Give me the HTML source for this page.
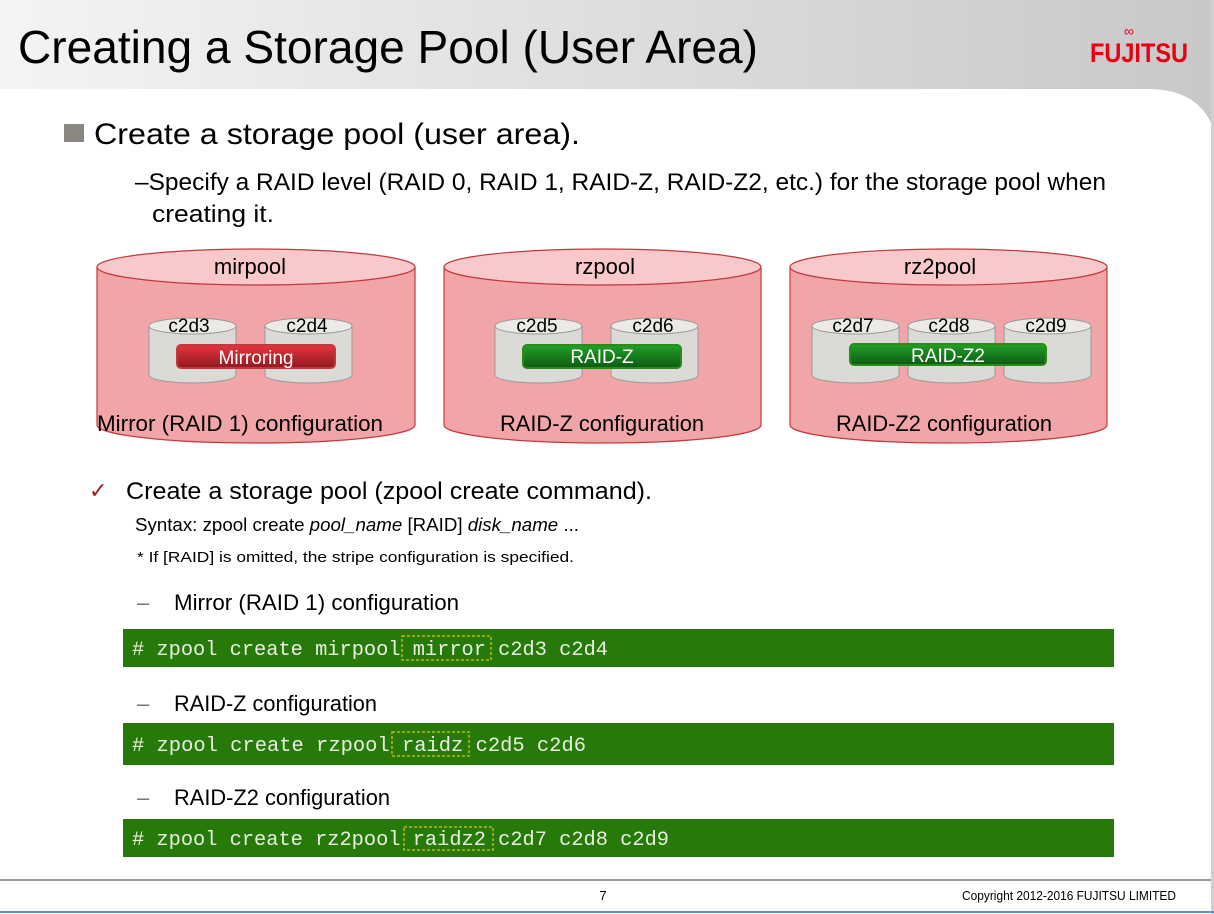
<!DOCTYPE html>
<html><head><meta charset="utf-8"><style>
html,body{margin:0;padding:0;background:#fff}
svg{display:block}
text{font-family:"Liberation Sans Narrow","Liberation Sans",sans-serif}
.m{font-family:"Liberation Mono",monospace;fill:#e8efe0}
</style></head><body>
<svg width="1214" height="914" viewBox="0 0 1214 914" xmlns="http://www.w3.org/2000/svg">
<defs>
<linearGradient id="hg" x1="0" x2="1" y1="0" y2="0"><stop offset="0" stop-color="#f4f4f4"/><stop offset="1" stop-color="#c8c8c8"/></linearGradient>
<linearGradient id="rb" x1="0" x2="0" y1="0" y2="1"><stop offset="0" stop-color="#e8343e"/><stop offset="1" stop-color="#8e1a20"/></linearGradient>
<linearGradient id="gb" x1="0" x2="0" y1="0" y2="1"><stop offset="0" stop-color="#23a028"/><stop offset="1" stop-color="#0d5a12"/></linearGradient>
</defs>
<rect x="0" y="0" width="1214" height="914" fill="#fff"/>
<path d="M0,0 H1214 V130 Q1200,90 1150,89 H0 Z" fill="url(#hg)"/>
<text x="18" y="63" font-size="46" textLength="740" lengthAdjust="spacingAndGlyphs">Creating a Storage Pool (User Area)</text>
<text x="1090" y="62" font-size="27" fill="#e60012" font-weight="bold" textLength="98" lengthAdjust="spacingAndGlyphs">FUJITSU</text>
<text x="1124" y="36" font-size="14" fill="#e60012">∞</text>
<rect x="64" y="124" width="20" height="18" fill="#8a8780"/>
<text x="94" y="144" font-size="30" textLength="486" lengthAdjust="spacingAndGlyphs">Create a storage pool (user area).</text>
<text x="135" y="190" font-size="24" textLength="971" lengthAdjust="spacingAndGlyphs">–Specify a RAID level (RAID 0, RAID 1, RAID-Z, RAID-Z2, etc.) for the storage pool when</text>
<text x="152" y="222" font-size="24" textLength="122" lengthAdjust="spacingAndGlyphs">creating it.</text>

<!-- pools -->
<g stroke="#c0393f" stroke-width="1.2">
<path d="M97,267 L97,425 A159,18 0 0 0 415,425 L415,267 Z" fill="#f2a5a8"/>
<ellipse cx="256" cy="267" rx="159" ry="18" fill="#f8c8ca"/>
<path d="M444,267 L444,425 A158.5,18 0 0 0 761,425 L761,267 Z" fill="#f2a5a8"/>
<ellipse cx="602.5" cy="267" rx="158.5" ry="18" fill="#f8c8ca"/>
<path d="M790,267 L790,425 A158.5,18 0 0 0 1107,425 L1107,267 Z" fill="#f2a5a8"/>
<ellipse cx="948.5" cy="267" rx="158.5" ry="18" fill="#f8c8ca"/>
</g>
<g font-size="22" text-anchor="middle">
<text x="250" y="274">mirpool</text>
<text x="605" y="274">rzpool</text>
<text x="940" y="274">rz2pool</text>
</g>
<!-- disks -->
<g stroke="#999" stroke-width="1" fill="#dcdad6">
<path d="M149,326 V375 A43.5,8 0 0 0 236,375 V326 Z"/><ellipse cx="192.5" cy="326" rx="43.5" ry="8" fill="#eceae6"/>
<path d="M265,326 V375 A43.5,8 0 0 0 352,375 V326 Z"/><ellipse cx="308.5" cy="326" rx="43.5" ry="8" fill="#eceae6"/>
<path d="M495,326 V375 A43.5,8 0 0 0 582,375 V326 Z"/><ellipse cx="538.5" cy="326" rx="43.5" ry="8" fill="#eceae6"/>
<path d="M611,326 V375 A43.5,8 0 0 0 698,375 V326 Z"/><ellipse cx="654.5" cy="326" rx="43.5" ry="8" fill="#eceae6"/>
<path d="M812,326 V375 A43.5,8 0 0 0 899,375 V326 Z"/><ellipse cx="855.5" cy="326" rx="43.5" ry="8" fill="#eceae6"/>
<path d="M908,326 V375 A43.5,8 0 0 0 995,375 V326 Z"/><ellipse cx="951.5" cy="326" rx="43.5" ry="8" fill="#eceae6"/>
<path d="M1004,326 V375 A43.5,8 0 0 0 1091,375 V326 Z"/><ellipse cx="1047.5" cy="326" rx="43.5" ry="8" fill="#eceae6"/>
</g>
<g font-size="19" text-anchor="middle">
<text x="189" y="332">c2d3</text><text x="307" y="332">c2d4</text>
<text x="537" y="332">c2d5</text><text x="653" y="332">c2d6</text>
<text x="853" y="332">c2d7</text><text x="949" y="332">c2d8</text><text x="1046" y="332">c2d9</text>
</g>
<rect x="177" y="345" width="158" height="23" rx="4" fill="url(#rb)" stroke="#c0393f" stroke-width="2"/>
<rect x="523" y="345" width="158" height="23" rx="4" fill="url(#gb)" stroke="#2a8a1a" stroke-width="2"/>
<rect x="850" y="344" width="196" height="21" rx="4" fill="url(#gb)" stroke="#2a8a1a" stroke-width="2"/>
<g font-size="19" fill="#fff" text-anchor="middle">
<text x="256" y="364">Mirroring</text>
<text x="602" y="363">RAID-Z</text>
<text x="948" y="362">RAID-Z2</text>
</g>
<g font-size="22">
<text x="97" y="431" textLength="286" lengthAdjust="spacingAndGlyphs">Mirror (RAID 1) configuration</text>
<text x="500" y="431" textLength="204" lengthAdjust="spacingAndGlyphs">RAID-Z configuration</text>
<text x="836" y="431" textLength="216" lengthAdjust="spacingAndGlyphs">RAID-Z2 configuration</text>
</g>

<text x="89" y="498" font-size="22" fill="#a01e24">✓</text>
<text x="126" y="499" font-size="24" textLength="526" lengthAdjust="spacingAndGlyphs">Create a storage pool (zpool create command).</text>
<text x="135" y="531" font-size="18" textLength="444" lengthAdjust="spacingAndGlyphs">Syntax: zpool create <tspan font-style="italic">pool_name</tspan> [RAID] <tspan font-style="italic">disk_name</tspan> ...</text>
<text x="137" y="562" font-size="15" textLength="437" lengthAdjust="spacingAndGlyphs">*   If [RAID] is omitted, the stripe configuration is specified.</text>
<g font-size="22">
<text x="137" y="610" fill="#777">–</text><text x="174" y="610" textLength="285" lengthAdjust="spacingAndGlyphs">Mirror (RAID 1) configuration</text>
<text x="137" y="711" fill="#777">–</text><text x="174" y="711" textLength="203" lengthAdjust="spacingAndGlyphs">RAID-Z configuration</text>
<text x="137" y="805" fill="#777">–</text><text x="174" y="805" textLength="216" lengthAdjust="spacingAndGlyphs">RAID-Z2 configuration</text>
</g>
<rect x="123" y="629" width="991" height="38" fill="#277a0a"/>
<rect x="123" y="723" width="991" height="42" fill="#277a0a"/>
<rect x="123" y="819" width="991" height="38" fill="#277a0a"/>
<g fill="none" stroke="#d8c020" stroke-width="1.3" stroke-dasharray="3,2">
<rect x="402" y="636" width="89" height="24"/>
<rect x="392" y="732" width="77" height="24"/>
<rect x="404" y="827" width="89" height="23"/>
</g>
<g font-size="20">
<text class="m" x="132" y="655" textLength="476" lengthAdjust="spacingAndGlyphs"># zpool create mirpool mirror c2d3 c2d4</text>
<text class="m" x="132" y="751" textLength="454" lengthAdjust="spacingAndGlyphs"># zpool create rzpool raidz c2d5 c2d6</text>
<text class="m" x="132" y="845" textLength="537" lengthAdjust="spacingAndGlyphs"># zpool create rz2pool raidz2 c2d7 c2d8 c2d9</text>
</g>
<rect x="0" y="879" width="1214" height="2" fill="#9a9a96"/>
<rect x="1211" y="0" width="3" height="914" fill="#d0d0d0"/>
<text x="603" y="900" font-size="13" text-anchor="middle">7</text>
<text x="962" y="900" font-size="13" textLength="214" lengthAdjust="spacingAndGlyphs">Copyright 2012-2016 FUJITSU LIMITED</text>
<rect x="0" y="911" width="1214" height="2" fill="#5b8fd0"/>
</svg>
</body></html>
